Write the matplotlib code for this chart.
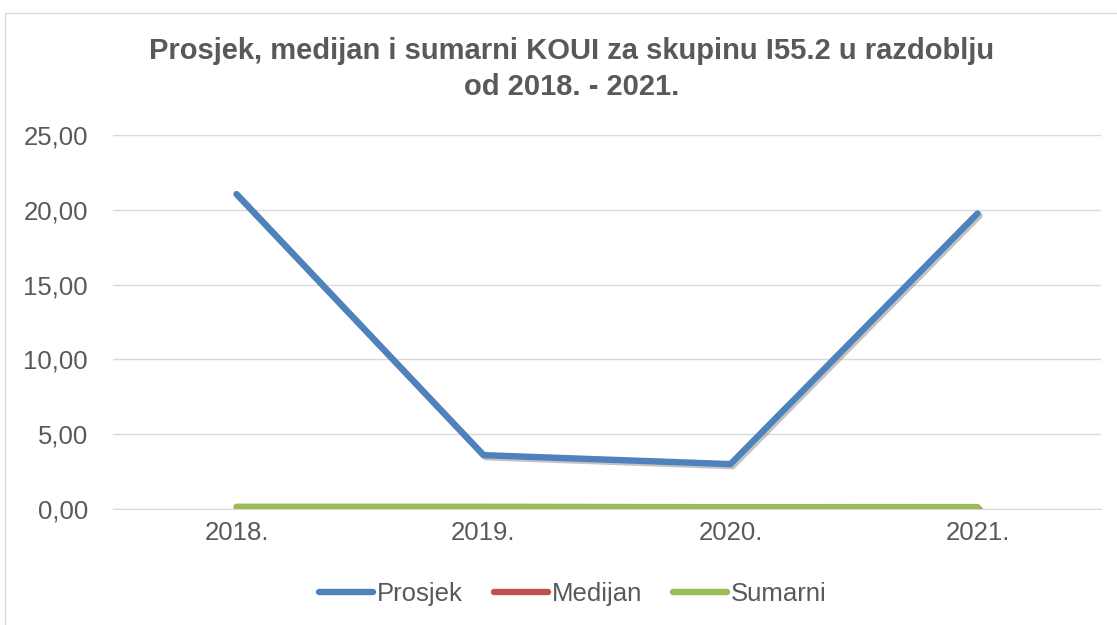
import matplotlib
matplotlib.use("Agg")
import matplotlib.pyplot as plt
import matplotlib.patheffects as pe
from matplotlib.patches import Rectangle

categories = ["2018.", "2019.", "2020.", "2021."]
prosjek = [21.05, 3.6, 3.0, 19.75]
medijan = [0.05, 0.05, 0.05, 0.05]
sumarni = [0.15, 0.15, 0.12, 0.13]
yticks = [0, 5, 10, 15, 20, 25]
ytick_labels = ["0,00", "5,00", "10,00", "15,00", "20,00", "25,00"]

plt.rcParams['font.family'] = ['Liberation Sans', 'DejaVu Sans']
fig = plt.figure(figsize=(11.17, 6.25), dpi=100)
fig.patches.append(Rectangle((5/1117, -0.1), 1.2, 1 - 13/625 + 0.1, transform=fig.transFigure,
                             fill=False, edgecolor="#d9d9d9", linewidth=1.0))
ax = fig.add_axes([113/1117, 1 - 509/625, (1101 - 113)/1117, (509 - 135)/625])

x = list(range(len(categories)))
shadow = [pe.SimpleLineShadow(offset=(1.5, -1.5), shadow_color="#888888", alpha=0.5), pe.Normal()]
ax.plot(x, prosjek, color="#4F81BD", lw=4.6, solid_capstyle="round", label="Prosjek", path_effects=shadow, zorder=3)
ax.plot(x, medijan, color="#C0504D", lw=4.6, solid_capstyle="round", label="Medijan", path_effects=shadow, zorder=3)
ax.plot(x, sumarni, color="#9BBB59", lw=4.6, solid_capstyle="round", label="Sumarni", path_effects=shadow, zorder=4)

ax.set_xlim(-0.5, 3.5)
ax.set_ylim(0, 25)
ax.set_yticks(yticks)
ax.set_yticklabels(ytick_labels)
ax.set_xticks(x)
ax.set_xticklabels(categories)
ax.yaxis.grid(True, color="#d9d9d9", lw=1.0)
ax.set_axisbelow(True)
for s in ["top", "right", "left"]:
    ax.spines[s].set_visible(False)
ax.spines["bottom"].set_color("#d9d9d9")
ax.tick_params(axis="both", length=0, labelsize=18.5, colors="#595959")
ax.tick_params(axis="x", pad=9)
ax.tick_params(axis="y", pad=18)

fig.text(572/1117, 1 - 69/625, "Prosjek, medijan i sumarni KOUI za skupinu I55.2 u razdoblju\nod 2018. - 2021.",
         ha="center", va="center", fontsize=21, fontweight="bold", color="#595959", linespacing=1.35)

leg = fig.legend(loc="center", bbox_to_anchor=(573/1117, 1 - 594/625), ncol=3, frameon=False,
                 fontsize=18.5, handlelength=2.1, handletextpad=0.15, columnspacing=1.2)
for t in leg.get_texts():
    t.set_color("#595959")
for h in leg.get_lines():
    h.set_path_effects([])
    h.set_linewidth(4.6)

fig.savefig("out.png", dpi=100)
